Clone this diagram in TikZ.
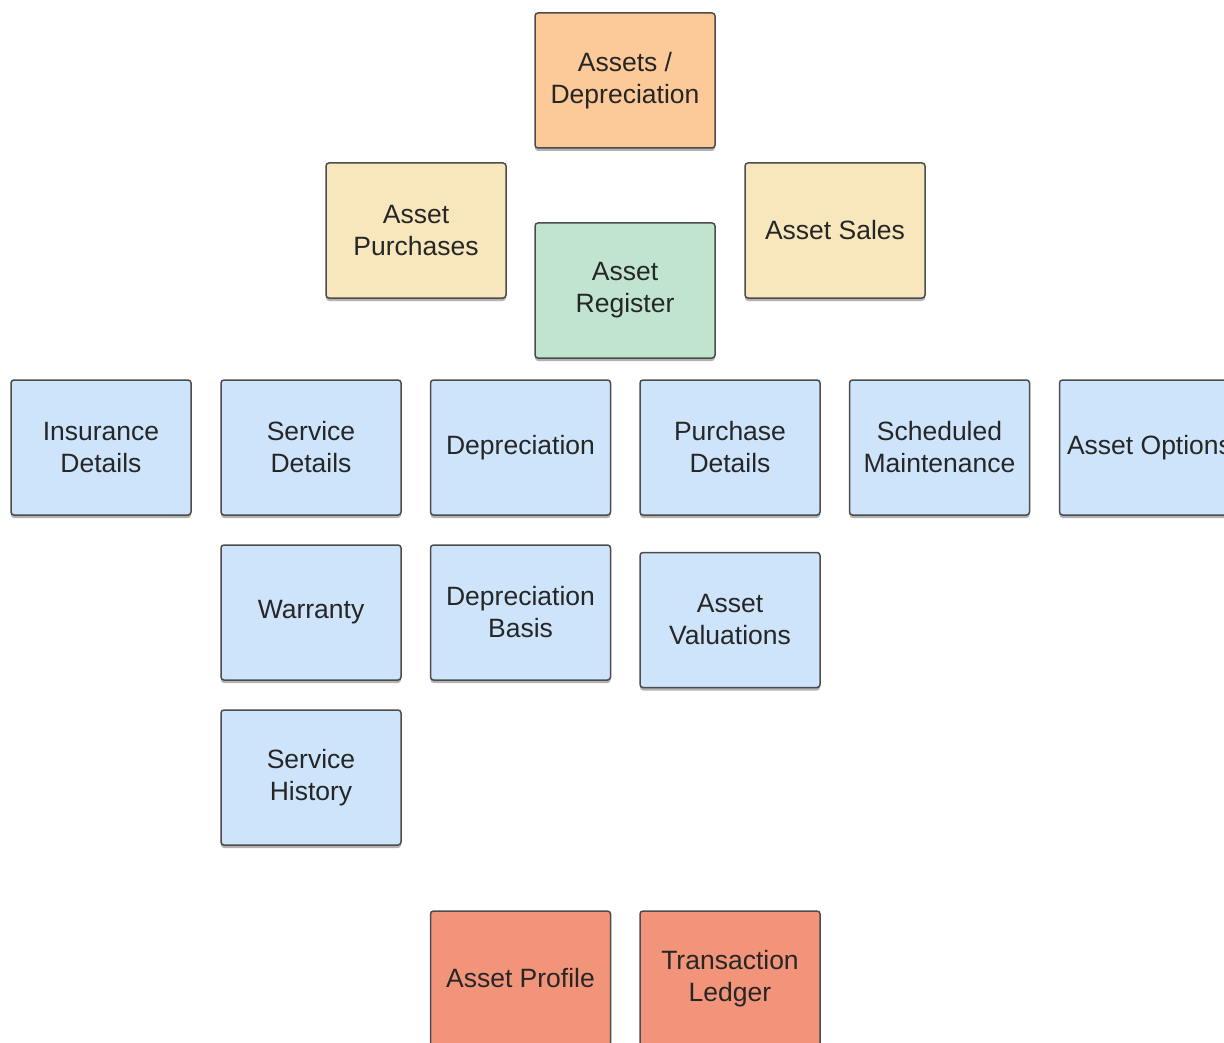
\documentclass[tikz,border=0pt]{standalone}
\usepackage{fontspec}
\setmainfont{Liberation Sans}
\usetikzlibrary{shadows}
\definecolor{cOrange}{HTML}{FCC998}
\definecolor{cYellow}{HTML}{F8E7BC}
\definecolor{cGreen}{HTML}{C1E4CF}
\definecolor{cBlue}{HTML}{CDE4FB}
\definecolor{cRed}{HTML}{F29479}
\definecolor{cBorder}{HTML}{4C4C4C}
\definecolor{cText}{HTML}{262626}
\begin{document}
\begin{tikzpicture}[x=1pt,y=-1pt,
  box/.style={draw=cBorder, line width=1.5pt, rounded corners=3pt,
    minimum width=180pt, minimum height=135pt, align=center,
    text=cText, inner sep=0pt,
    font=\fontsize{26.5}{32}\selectfont,
    drop shadow={shadow xshift=0pt, shadow yshift=-3pt, opacity=0.3, fill=black}},
  orangebox/.style={box, fill=cOrange},
  yellowbox/.style={box, fill=cYellow},
  greenbox/.style={box, fill=cGreen},
  bluebox/.style={box, fill=cBlue},
  redbox/.style={box, fill=cRed}]
\useasboundingbox (0,0) rectangle (1224,1043);
\clip (0,0) rectangle (1224,1043);
\node[orangebox] (ad) at (625,80.5) {Assets /\\Depreciation};
\node[yellowbox] (ap) at (416,230.5) {Asset\\Purchases};
\node[yellowbox] (as) at (835,230.5) {Asset Sales};
\node[greenbox] (ar) at (625,290.5) {Asset\\Register};
\node[bluebox] (ins) at (101,447.5) {Insurance\\Details};
\node[bluebox] (sd) at (311,447.5) {Service\\Details};
\node[bluebox] (dep) at (520.5,447.5) {Depreciation};
\node[bluebox] (pd) at (730,447.5) {Purchase\\Details};
\node[bluebox] (sm) at (939.5,447.5) {Scheduled\\Maintenance};
\node[bluebox] (ao) at (1149.5,447.5) {Asset Options};
\node[bluebox] (war) at (311,612.5) {Warranty};
\node[bluebox] (db) at (520.5,612.5) {Depreciation\\Basis};
\node[bluebox] (av) at (730,620) {Asset\\Valuations};
\node[bluebox] (sh) at (311,777.5) {Service\\History};
\node[redbox] (apr) at (520.5,978.5) {Asset Profile};
\node[redbox] (tl) at (730,978.5) {Transaction\\Ledger};
\end{tikzpicture}
\end{document}
